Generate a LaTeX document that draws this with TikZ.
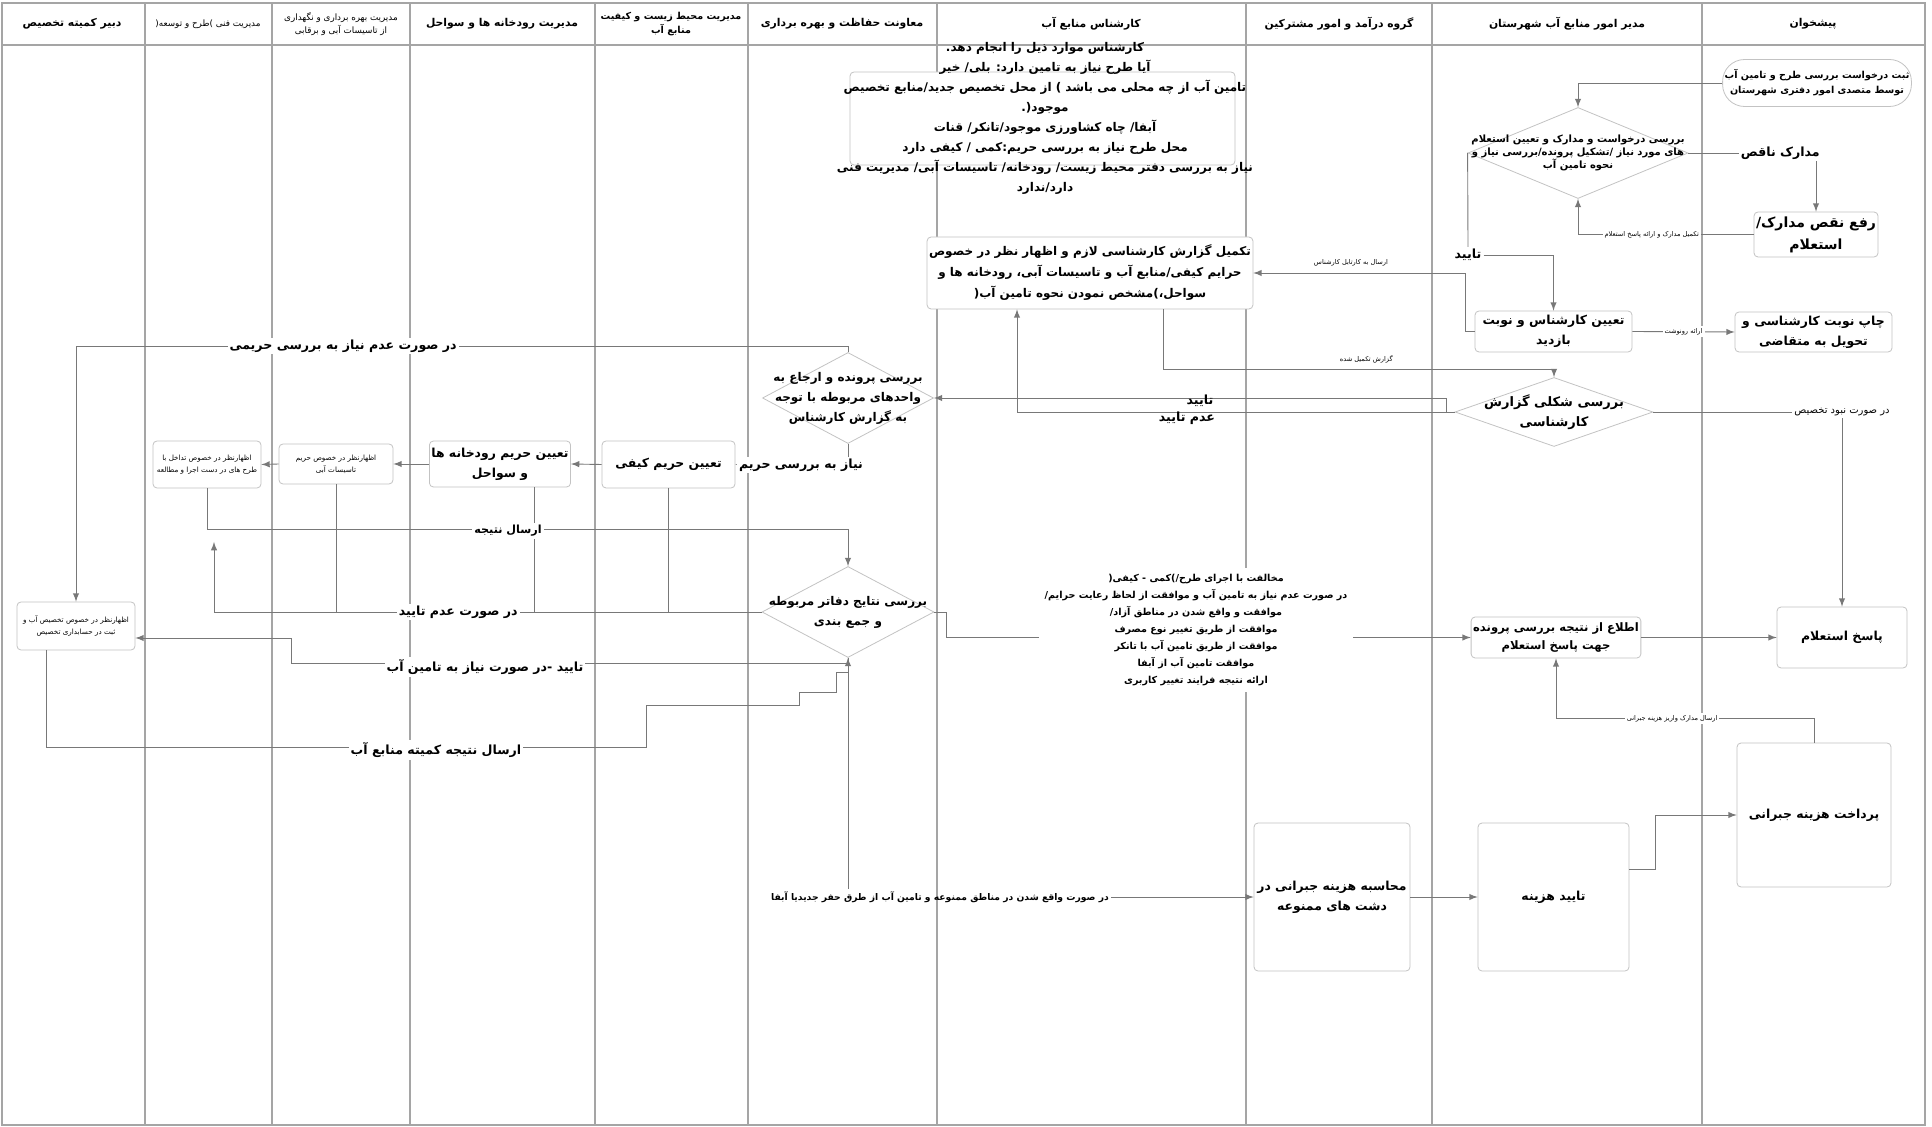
\documentclass[tikz,border=0pt]{standalone}
\usepackage{fontspec}
\usepackage{tikz}
\usetikzlibrary{arrows,positioning,shapes.geometric,calc}
\newfontfamily\fafont[Script=Arabic]{DejaVu Sans}
\TeXXeTstate=1
\newcommand{\rline}[1]{\beginR #1\endR}
\newcommand{\fsz}[2]{\fontsize{#1}{#2}\selectfont}
\definecolor{lanegray}{RGB}{165,165,165}
\definecolor{boxgray}{RGB}{195,195,195}
\definecolor{linegray}{RGB}{120,120,120}

\begin{document}
\begin{tikzpicture}[x=.5pt,y=-.5pt,>=latex]%
                    \useasboundingbox (0,0) rectangle (1932,1127); %%
                    \fill[white] (0,0) rectangle (1932,1127); %%
                    \draw[lanegray,line width=.7pt] (2,3) rectangle (1925,1125); %%
                    \draw[lanegray,line width=.7pt] (2,45) -- (1925,45); %%
                    \draw[lanegray,line width=.7pt] (145,3) -- (145,1125); %%
                    \draw[lanegray,line width=.7pt] (272,3) -- (272,1125); %%
                    \draw[lanegray,line width=.7pt] (410,3) -- (410,1125); %%
                    \draw[lanegray,line width=.7pt] (595,3) -- (595,1125); %%
                    \draw[lanegray,line width=.7pt] (748,3) -- (748,1125); %%
                    \draw[lanegray,line width=.7pt] (937,3) -- (937,1125); %%
                    \draw[lanegray,line width=.7pt] (1246,3) -- (1246,1125); %%
                    \draw[lanegray,line width=.7pt] (1432,3) -- (1432,1125); %%
                    \draw[lanegray,line width=.7pt] (1702,3) -- (1702,1125); %%
                    \begin{scope}
                        \tikzstyle{every node}=[align=center,inner sep=0pt,text=black,font=\fafont\bfseries\fsz{5.4}{7.5}];%%
                        \node (h1) at (1813,24) {\rline{پیشخوان}}; %%
                        \node (h2) at (1567,24) {\rline{مدیر امور منابع آب شهرستان}}; %%
                        \node (h3) at (1339,24) {\rline{گروه درآمد و امور مشترکین}}; %%
                        \node (h4) at (1091,24) {\rline{کارشناس منابع آب}}; %%
                        \node (h5) at (842,24) {\rline{معاونت حفاظت و بهره برداری}}; %%
                        \node[font=\fafont\bfseries\fsz{4.8}{7}] (h6) at (671,24) {\rline{مدیریت محیط زیست و کیفیت}\\\rline{منابع آب}}; %%
                        \node (h7) at (502,24) {\rline{مدیریت رودخانه ها و سواحل}}; %%
                        \node[font=\fafont\fsz{4.4}{6.5}] (h8) at (341,24) {\rline{مدیریت بهره برداری و نگهداری}\\\rline{از تاسیسات آبی و برقابی}}; %%
                        \node[font=\fafont\fsz{4.4}{6.5}] (h9) at (208,24) {\rline{مدیریت فنی )طرح و توسعه(}}; %%
                        \node (h10) at (72,24) {\rline{دبیر کمیته تخصیص}}; %%
                    \end{scope}
                    \begin{scope}
                        \tikzstyle{every node}=[draw=boxgray,fill=white,rounded corners=2pt,align=center,inner sep=1pt,text=black,font=\fafont\bfseries\fsz{6.2}{10}];%%
                        \node[minimum width=192.5pt,minimum height=46.5pt] (kbox) at (1042.5,118.5) {}; %%
                        \node[minimum width=87.5pt,minimum height=23.5pt,rounded corners=11pt,font=\fafont\bfseries\fsz{4.8}{7.5}] (start) at (1817,83) {\rline{ثبت درخواست بررسی طرح و تامین آب}\\\rline{توسط متصدی امور دفتری شهرستان}}; %%
                        \node[minimum width=54pt,minimum height=22.5pt,font=\fafont\bfseries\fsz{7}{11}] (rafe) at (1816,234.5) {\rline{رفع نقص مدارک/}\\\rline{استعلام}}; %%
                        \node[minimum width=78.5pt,minimum height=20pt] (chap) at (1813.5,332) {\rline{چاپ نوبت کارشناسی و}\\\rline{تحویل به متقاضی}}; %%
                        \node[minimum width=65pt,minimum height=30.5pt] (paasokh) at (1842,637.5) {\rline{پاسخ استعلام}}; %%
                        \node[minimum width=77pt,minimum height=72pt] (pardakht) at (1814,815) {\rline{پرداخت هزینه جبرانی}}; %%
                        \node[minimum width=78.5pt,minimum height=20.5pt] (t7) at (1553.5,331.5) {\rline{تعیین کارشناس و نوبت}\\\rline{بازدید}}; %%
                        \node[minimum width=78pt,minimum height=20.5pt,font=\fafont\bfseries\fsz{5.8}{9}] (etela) at (1556,637.5) {\rline{اطلاع از نتیجه بررسی پرونده}\\\rline{جهت پاسخ استعلام}}; %%
                        \node[minimum width=75.5pt,minimum height=74pt] (tayidH) at (1553.5,897) {\rline{تایید هزینه}}; %%
                        \node[minimum width=78pt,minimum height=74pt] (mohasebe) at (1332,897) {\rline{محاسبه هزینه جبرانی در}\\\rline{دشت های ممنوعه}}; %%
                        \node[minimum width=145pt,minimum height=36pt,font=\fafont\bfseries\fsz{6}{10.5}] (tkmil) at (1090,273) {\rline{تکمیل گزارش کارشناسی لازم و اظهار نظر در خصوص}\\\rline{حرایم کیفی/منابع آب و تاسیسات آبی، رودخانه ها و}\\\rline{سواحل،)مشخص نمودن نحوه تامین آب(}}; %%
                        \node[minimum width=66.5pt,minimum height=23.5pt] (tKeyfi) at (668.5,464.5) {\rline{تعیین حریم کیفی}}; %%
                        \node[minimum width=66pt,minimum height=23pt] (tRiver) at (500,464) {\rline{تعیین حریم رودخانه ها}\\\rline{و سواحل}}; %%
                        \node[minimum width=57pt,minimum height=20pt,font=\fafont\fsz{3.6}{6}] (tasisat) at (336,464) {\rline{اظهارنظر در خصوص حریم}\\\rline{تاسیسات آبی}}; %%
                        \node[minimum width=54pt,minimum height=23.5pt,font=\fafont\fsz{3.6}{6}] (tadakhol) at (207,464.5) {\rline{اظهارنظر در خصوص تداخل با}\\\rline{طرح های در دست اجرا و مطالعه}}; %%
                        \node[minimum width=59pt,minimum height=24pt,font=\fafont\fsz{3.6}{6}] (dabir) at (76,626) {\rline{اظهارنظر در خصوص تخصیص آب و}\\\rline{ثبت در حسابداری تخصیص}}; %%
                    \end{scope}
                    \begin{scope}
                        \tikzstyle{every node}=[diamond,draw=boxgray,fill=white,inner sep=0pt];%%
                        \node[minimum width=110pt,minimum height=45.5pt] (d1) at (1578,153) {}; %%
                        \node[minimum width=99pt,minimum height=34.5pt] (d8) at (1554,412) {}; %%
                        \node[minimum width=85.5pt,minimum height=45.5pt] (d7) at (848,398) {}; %%
                        \node[minimum width=86pt,minimum height=45.5pt] (dN) at (848,612) {}; %%
                    \end{scope}
                    \begin{scope}
                        \tikzstyle{every node}=[align=center,inner sep=0pt,text=black,font=\fafont\bfseries\fsz{6}{10}];%%
                        \node (ktext) at (1045,118) {\rline{کارشناس موارد ذیل را انجام دهد.}\\\rline{آیا طرح نیاز به تامین دارد: بلی/ خیر}\\\rline{تامین آب از چه محلی می باشد ) از محل تخصیص جدید/منابع تخصیص}\\\rline{موجود(.}\\\rline{آبفا/ چاه کشاورزی موجود/تانکر/ قنات}\\\rline{محل طرح نیاز به بررسی حریم:کمی / کیفی دارد}\\\rline{نیاز به بررسی دفتر محیط زیست/ رودخانه/ تاسیسات آبی/ مدیریت فنی}\\\rline{دارد/ندارد}}; %%
                        \node[font=\fafont\bfseries\fsz{5}{6.5}] (d1txt) at (d1) {\rline{بررسی درخواست و مدارک و تعیین استعلام}\\\rline{های مورد نیاز /تشکیل پرونده/بررسی نیاز و}\\\rline{نحوه تامین آب}}; %%
                        \node[font=\fafont\bfseries\fsz{6.5}{10}] (d8txt) at (d8) {\rline{بررسی شکلی گزارش}\\\rline{کارشناسی}}; %%
                        \node (d7txt) at (d7) {\rline{بررسی پرونده و ارجاع به}\\\rline{واحدهای مربوطه با توجه}\\\rline{به گزارش کارشناس}}; %%
                        \node (dNtxt) at (dN) {\rline{بررسی نتایج دفاتر مربوطه}\\\rline{و جمع بندی}}; %%
                    \end{scope}
                    \tikzstyle{lbl}=[inner sep=1pt,text=black,font=\fafont\bfseries\fsz{6.3}{8}]
                    \tikzstyle{small}=[inner sep=1pt,text=black,font=\fafont\fsz{3.3}{4}]
                    \tikzstyle{conn}=[linegray,line width=.45pt]
                    \node[lbl,fill=white] (ltay1) at (1468,255) {\rline{تایید}}; %%
                    \node[lbl,font=\fafont\fsz{5}{6},fill=white] (lnabood) at (1842,412) {\rline{در صورت نبود تخصیص}}; %%
                    \node[lbl,font=\fafont\bfseries\fsz{4.6}{6}] (lmamnoo) at (940,897) {\rline{در صورت واقع شدن در مناطق ممنوعه و تامین آب از طرق حفر جدیدیا آبفا}}; %%
                    \coordinate (cadam) at (214,542); %%
                    \draw[conn,->] (start.west) -| (d1.north); %%
                    \draw[conn,->] (d1.east) -| (rafe.north) node[lbl,pos=.36,fill=white] (lnaqes) {\rline{مدارک ناقص}}; %%
                    \draw[conn,->] (rafe.west) -| (d1.south) node[small,pos=.29,fill=white] (ltakmil) {\rline{تکمیل مدارک و ارائه پاسخ استعلام}}; %%
                    \draw[conn] (d1.west) -- (ltay1.north); %%
                    \draw[conn,->] (ltay1.east) -| (t7.north); %%
                    \draw[conn,->] (t7.west) -- ++(-9,0) |- (tkmil.east) node[small,pos=.77,above=2pt] (lkartabl) {\rline{ارسال به کارتابل کارشناس}}; %%
                    \draw[conn,->] (t7.east) -- (chap.west) node[small,midway,fill=white] (lronevesht) {\rline{ارائه رونوشت}}; %%
                    \draw[conn,->] (tkmil.south) ++(73,0) |- ($(d8.north)+(0,-8)$) node[small,pos=.76,above=2pt] (lgozaresh) {\rline{گزارش تکمیل شده}} -- (d8.north); %%
                    \draw[conn,->] (d8.west) -- ++(-8,0) |- (d7.east); %%
                    \draw[conn,->] (d8.west) -| ($(tkmil.south)+(-73,0)$); %%
                    \node[lbl] (ltay2) at (1200,401) {\rline{تایید}}; %%
                    \node[lbl] (ladam) at (1187,418) {\rline{عدم تایید}}; %%
                    \draw[conn] (d8.east) -- (lnabood.west); %%
                    \draw[conn,->] (lnabood.south) -- (paasokh.north); %%
                    \draw[conn,->] (d7.north) -- ++(0,-6) -| (dabir.north) node[lbl,pos=.327,fill=white] (lharimi) {\rline{در صورت عدم نیاز به بررسی حریمی}}; %%
                    \draw[conn,->] (d7.south) |- (tKeyfi.east); %%
                    \node[lbl,fill=white] (lharim) at (801,465) {\rline{نیاز به بررسی حریم}}; %%
                    \draw[conn,->] (tKeyfi.west) -- (tRiver.east); %%
                    \draw[conn,->] (tRiver.west) -- (tasisat.east); %%
                    \draw[conn,->] (tasisat.west) -- (tadakhol.east); %%
                    \draw[conn] (tasisat.south) -- (tasisat.south |- dN.west); %%
                    \draw[conn] ($(tRiver.south)+(34,0)$) -- ($(tRiver.south)+(34,125)$); %%
                    \draw[conn] (tKeyfi.south) -- (tKeyfi.south |- dN.west); %%
                    \draw[conn,->] (tadakhol.south) |- ($(dN.north)+(0,-37)$) -- (dN.north); %%
                    \node[lbl,font=\fafont\bfseries\fsz{5.6}{7},fill=white] (lersal) at (508,531) {\rline{ارسال نتیجه}}; %%
                    \draw[conn,->] (dN.west) -| (cadam) node[lbl,pos=.277,fill=white] (ladamt) {\rline{در صورت عدم تایید}}; %%
                    \draw[conn,->] (dN.south) |- (291,663) |- ($(dabir.east)+(0,12)$); %%
                    \node[lbl,fill=white] (lniaz) at (485,667) {\rline{تایید -در صورت نیاز به تامین آب}}; %%
                    \draw[conn,->] (dabir.south) ++(-30,0) -- (46,747) -- (646,747) -- (646,705) -- (799,705) -- (799,692) -- (836,692) -- (836,672) -| (dN.south); %%
                    \node[lbl,fill=white] (lkomite) at (436,750) {\rline{ارسال نتیجه کمیته منابع آب}}; %%
                    \draw[conn,->] (dN.east) -- ++(12,0) |- (etela.west); %%
                    \node[fill=white,align=center,inner sep=3pt,text=black,font=\fafont\bfseries\fsz{4.8}{8.5}] (mokhalef) at (1196,630) {\rline{مخالفت با اجرای طرح/)کمی - کیفی(}\\\rline{در صورت عدم نیاز به تامین آب و موافقت از لحاظ رعایت حرایم/}\\\rline{موافقت و واقع شدن در مناطق آزاد/}\\\rline{موافقت از طریق تغییر نوع مصرف}\\\rline{موافقت از طریق تامین آب با تانکر}\\\rline{موافقت تامین آب از آبفا}\\\rline{ارائه نتیجه فرایند تغییر کاربری}}; %%
                    \draw[conn,->] (etela.east) -- (paasokh.west); %%
                    \draw[conn,->] (pardakht.north) |- ($(etela.south)+(0,60)$) node[small,pos=.775,fill=white] (lvariz) {\rline{ارسال مدارک واریز هزینه جبرانی}} -- (etela.south); %%
                    \draw[conn] (dN.south) -- (dN.south |- lmamnoo.north); %%
                    \draw[conn,->] (lmamnoo.east) -- (mohasebe.west); %%
                    \draw[conn,->] (mohasebe.east) -- (tayidH.west); %%
                    \draw[conn,->] ($(tayidH.east)+(0,-28)$) -- ++(26,0) |- (pardakht.west); %%
\end{tikzpicture}
\end{document}
